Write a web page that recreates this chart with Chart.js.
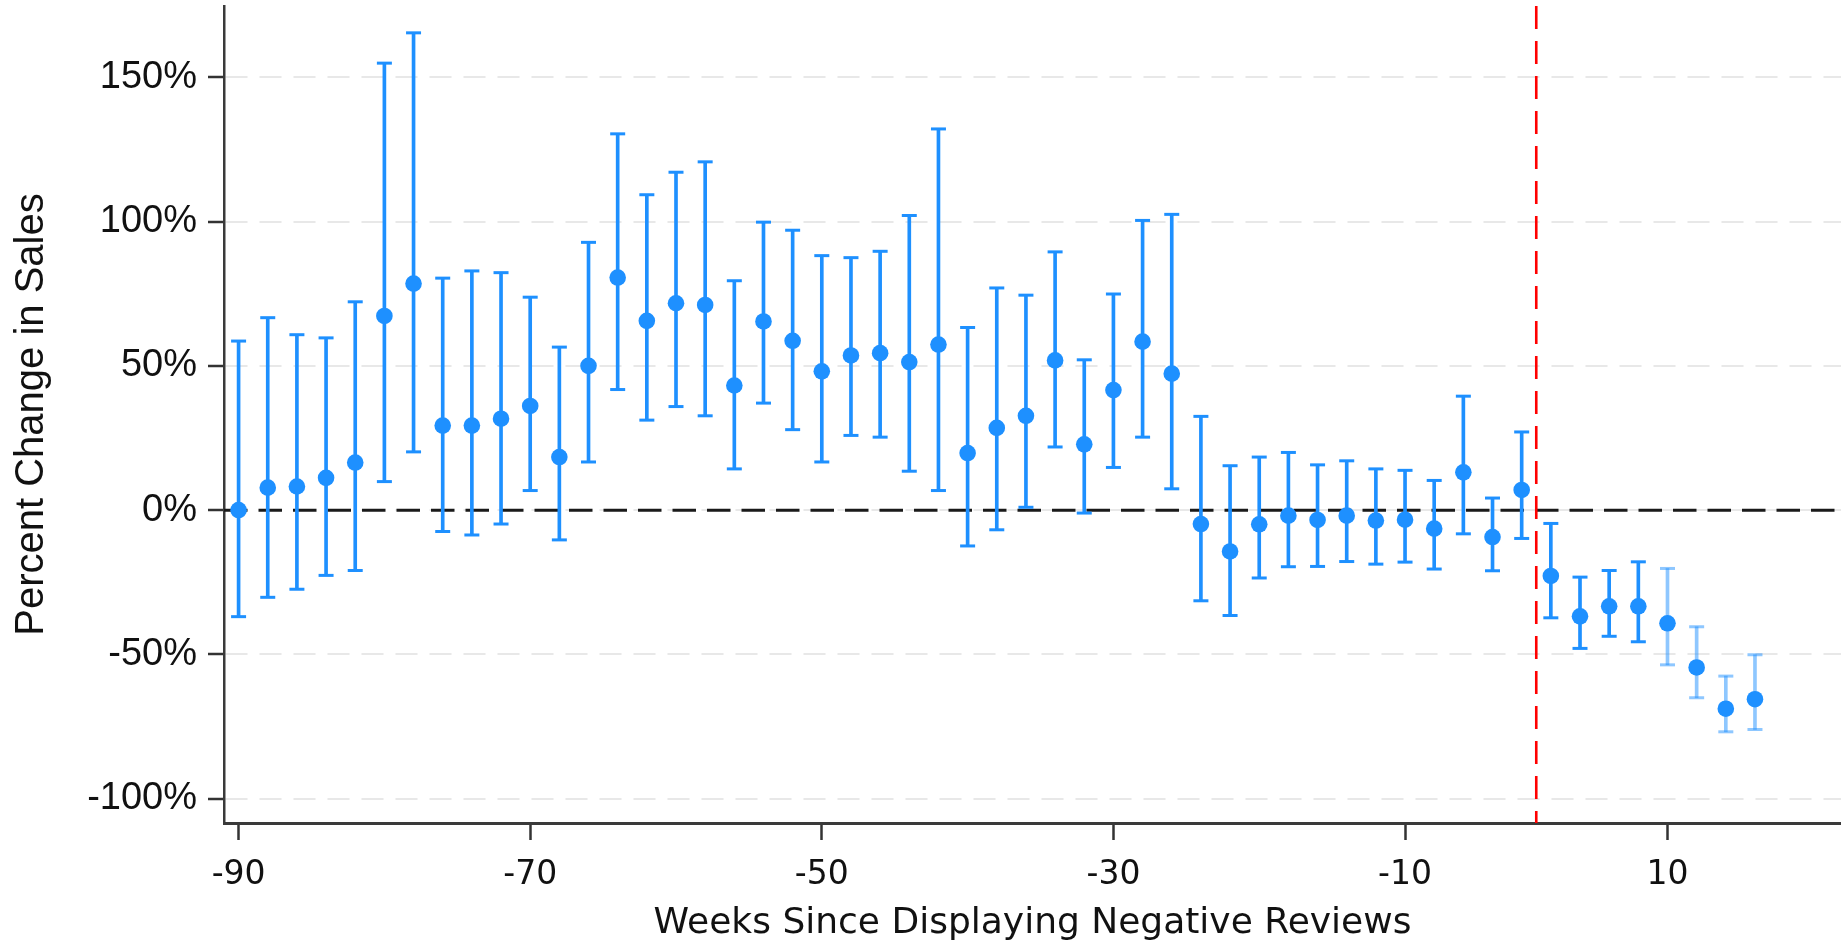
<!DOCTYPE html>
<html>
<head>
<meta charset="utf-8">
<script src="https://cdn.jsdelivr.net/npm/chart.js@4"></script>
<style>
html, body { margin: 0; padding: 0; background: #fff; overflow: hidden; }
#wrap { width: 1841px; height: 944px; position: relative; }
canvas { display: block; }
</style>
</head>
<body>
<div id="wrap"><canvas id="chart"></canvas></div>
<script>
// weeks relative to the reviews being shown (2-week bins)
const weeks = [-90, -88, -86, -84, -82, -80, -78, -76, -74, -72, -70, -68, -66, -64, -62, -60, -58, -56,
  -54, -52, -50, -48, -46, -44, -42, -40, -38, -36, -34, -32, -30, -28, -26, -24, -22, -20, -18, -16,
  -14, -12, -10, -8, -6, -4, -2, 0, 2, 4, 6, 8, 10, 12, 14];
const estimate = [0, 7.8, 8.2, 11.2, 16.5, 67.3, 78.5, 29.3, 29.3, 31.7, 36.1, 18.4, 50.0, 80.6, 65.6, 71.7, 71.1, 43.2,
  65.4, 58.7, 48.1, 53.6, 54.4, 51.3, 57.4, 19.8, 28.5, 32.7, 51.9, 22.8, 41.6, 58.4, 47.3, -4.8, -14.3, -4.9, -1.9, -3.4,
  -1.9, -3.6, -3.3, -6.4, 13.1, -9.3, 7.0, -22.8, -36.8, -33.3, -33.3, -39.2, -54.5, -68.8, -65.5];
const upper = [58.6, 66.7, 60.8, 59.7, 72.2, 154.9, 165.4, 80.4, 82.9, 82.3, 73.8, 56.5, 92.8, 130.4, 109.3, 117.1, 120.7, 79.5,
  99.8, 97.0, 88.2, 87.5, 89.7, 102.1, 132.1, 63.3, 77.0, 74.5, 89.5, 52.1, 74.9, 100.4, 102.5, 32.5, 15.4, 18.4, 20.0, 15.7,
  17.1, 14.3, 13.8, 10.3, 39.5, 4.2, 27.1, -4.6, -23.2, -20.9, -17.9, -20.2, -40.4, -57.5, -50.1];
const lower = [-36.9, -30.2, -27.4, -22.6, -20.9, 9.9, 20.2, -7.4, -8.6, -4.8, 6.8, -10.3, 16.7, 41.8, 31.2, 35.9, 32.7, 14.3,
  37.1, 27.9, 16.7, 25.9, 25.3, 13.5, 6.8, -12.4, -6.8, 1.0, 21.9, -1.0, 14.8, 25.3, 7.4, -31.4, -36.5, -23.5, -19.6, -19.5,
  -17.8, -18.7, -18.0, -20.4, -8.2, -21.0, -9.8, -37.3, -47.9, -43.7, -45.6, -53.6, -65.0, -76.8, -76.0];

const xTicks = [-90, -70, -50, -30, -10, 8];
const xTickLabels = ['-90', '-70', '-50', '-30', '-10', '10'];
const yTicks = [-100, -50, 0, 50, 100, 150];
const eventWeek = -1;
const fadeFrom = 8;

const blue = '#1e90ff';
const paleBlue = 'rgba(30,144,255,0.5)';
const whiskerColor = ctx => weeks[ctx.dataIndex] >= fadeFrom ? paleBlue : blue;
const sans = 'Liberation Sans, Arial, sans-serif';
const wide = 'DejaVu Sans, sans-serif';

// dashed zero line and red event line
const refLines = {
  id: 'refLines',
  beforeDatasetsDraw(chart) {
    const { ctx, chartArea, scales: { x, y } } = chart;
    ctx.save();
    ctx.lineWidth = 3;
    ctx.strokeStyle = '#1a1a1a';
    ctx.setLineDash([23.5, 11]);
    let py = y.getPixelForValue(0);
    ctx.beginPath();
    ctx.moveTo(chartArea.left, py);
    ctx.lineTo(chartArea.right, py);
    ctx.stroke();

    ctx.lineWidth = 2.6;
    ctx.strokeStyle = '#ff0000';
    ctx.setLineDash([23, 12]);
    let px = x.getPixelForValue(eventWeek);
    ctx.beginPath();
    ctx.moveTo(px, chartArea.top);
    ctx.lineTo(px, chartArea.bottom);
    ctx.stroke();
    ctx.restore();
  }
};

const noPad = s => { s.paddingTop = 0; s.paddingBottom = 0; s.paddingLeft = 0; s.paddingRight = 0; };

const capSet = vals => ({
  type: 'scatter',
  data: weeks.map((w, i) => ({ x: w, y: vals[i] })),
  pointStyle: 'line',
  pointRadius: 7.5,
  borderWidth: 3,
  borderColor: whiskerColor,
  order: 1
});

new Chart(document.getElementById('chart'), {
  type: 'scatter',
  data: {
    datasets: [
      {
        type: 'scatter',
        data: weeks.map((w, i) => ({ x: w, y: estimate[i] })),
        pointRadius: 8.3,
        backgroundColor: blue,
        borderWidth: 0,
        order: 0
      },
      {
        type: 'bar',
        data: weeks.map((w, i) => ({ x: w, y: [lower[i], upper[i]] })),
        barThickness: 3,
        backgroundColor: whiskerColor,
        borderWidth: 0,
        order: 2
      },
      capSet(upper),
      capSet(lower)
    ]
  },
  options: {
    responsive: true,
    maintainAspectRatio: false,
    animation: false,
    events: [],
    layout: { autoPadding: false, padding: { top: 6, right: 0, left: 0, bottom: 0 } },
    plugins: { legend: { display: false }, tooltip: { enabled: false } },
    scales: {
      x: {
        type: 'linear',
        min: -91,
        max: 19.9,
        offset: false,
        afterBuildTicks: s => { s.ticks = xTicks.map(v => ({ value: v })); },
        afterFit: s => { s.height = 121; noPad(s); },
        ticks: {
          autoSkip: false,
          maxRotation: 0,
          padding: 16,
          color: '#111',
          font: { family: wide, size: 33 },
          callback: (v, i) => xTickLabels[i]
        },
        grid: { offset: false, drawOnChartArea: false, tickLength: 17, tickColor: '#333', tickWidth: 2.5 },
        border: { color: '#3a3a3a', width: 3 },
        title: {
          display: true,
          text: 'Weeks Since Displaying Negative Reviews',
          color: '#111',
          font: { family: wide, size: 36, lineHeight: 1.15 },
          padding: { top: 0, bottom: 0 }
        }
      },
      y: {
        type: 'linear',
        min: -108.4,
        max: 174.7,
        afterBuildTicks: s => { s.ticks = yTicks.map(v => ({ value: v })); },
        afterFit: s => { s.width = 224; noPad(s); },
        ticks: {
          padding: 11,
          color: '#111',
          font: { family: sans, size: 38 },
          callback: v => v + '%'
        },
        grid: { color: '#e8e8e8', lineWidth: 2, tickLength: 16, tickColor: '#333', tickWidth: 2.5 },
        border: { color: '#3a3a3a', width: 2.5, dash: [22, 12] },
        title: {
          display: true,
          text: 'Percent Change in Sales',
          color: '#111',
          font: { family: sans, size: 40 },
          padding: { top: 8, bottom: 0 }
        }
      }
    }
  },
  plugins: [refLines]
});
</script>
</body>
</html>
